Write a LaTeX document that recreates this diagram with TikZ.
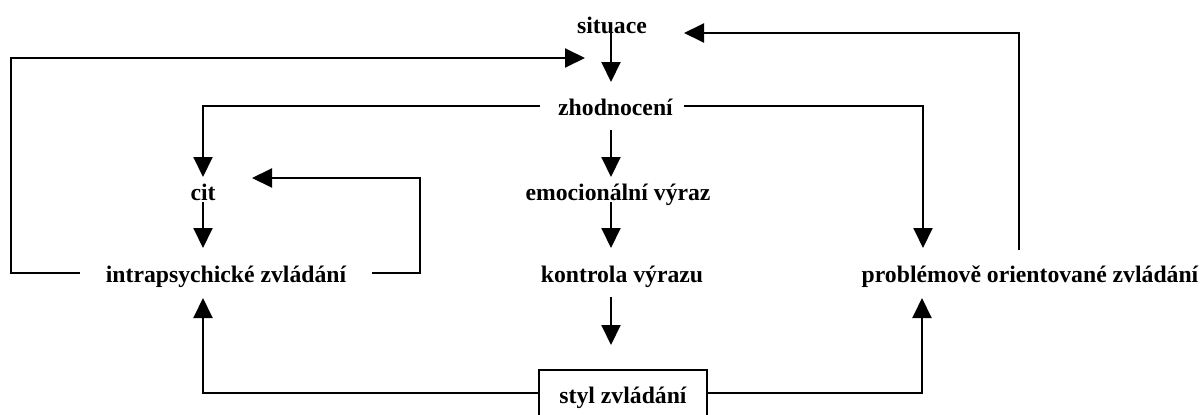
\documentclass[tikz,border=0pt]{standalone}
\usepackage{fontspec}
\setmainfont{Liberation Serif}
\usetikzlibrary{arrows.meta}
\begin{document}
\begin{tikzpicture}[x=1pt,y=-1pt,
    lbl/.style={anchor=base, inner sep=0pt, font=\fontsize{23.7}{28}\selectfont\bfseries},
    arr/.style={line width=2pt, -{Triangle[length=20pt,width=19pt]}},
    ln/.style={line width=2pt}]
  \useasboundingbox (0,0) rectangle (1203,415);
  \clip (0,0) rectangle (1203,415);

  % labels
  \node[lbl] (sit)   at (612,33)   {situace};
  \node[lbl] (zh)    at (615.5,115) {zhodnocení};
  \node[lbl] (cit)   at (203,200)  {cit};
  \node[lbl] (emo)   at (618,200)  {emocionální výraz};
  \node[lbl] (intra) at (226,282)  {intrapsychické zvládání};
  \node[lbl] (kon)   at (622,282)  {kontrola výrazu};
  \node[lbl] (prob)  at (1030,282) {problémově orientované zvládání};
  \node[lbl, draw, line width=2pt, text height=33pt, text depth=30pt,
        minimum width=168pt] (styl) at (623,403) {styl zvládání};

  % end points of the connectors
  \coordinate (sitS)   at (611,31);
  \coordinate (zhN)    at (611,82);
  \coordinate (zhS)    at (611,130);
  \coordinate (emoN)   at (611,177);
  \coordinate (emoS)   at (611,202);
  \coordinate (konN)   at (611,248);
  \coordinate (konS)   at (611,297);
  \coordinate (stylN)  at (611,345);
  \coordinate (zhW)    at (540,106);
  \coordinate (zhE)    at (684,106);
  \coordinate (citN)   at (203,177);
  \coordinate (citS)   at (203,202);
  \coordinate (citE)   at (252,178);
  \coordinate (intraN) at (203,248);
  \coordinate (intraE) at (372,273);
  \coordinate (intraW) at (80,273);
  \coordinate (intraB) at (203,298);
  \coordinate (sitW)   at (585,58);
  \coordinate (sitE)   at (684,33);
  \coordinate (probN)  at (923,248);
  \coordinate (probT)  at (1019,250);
  \coordinate (probB)  at (922,298);
  \coordinate (stylW)  at (539,393);
  \coordinate (stylE)  at (707,393);

  % central chain
  \draw[arr] (sitS) -- (zhN);
  \draw[arr] (zhS) -- (emoN);
  \draw[arr] (emoS) -- (konN);
  \draw[arr] (konS) -- (stylN);

  % appraisal branches
  \draw[arr] (zhW) -| (citN);
  \draw[arr] (zhE) -| (probN);
  \draw[arr] (citS) -- (intraN);

  % feedback loops
  \draw[arr] (intraE) -- (420,273) |- (citE);
  \draw[arr] (intraW) -- (11,273) |- (sitW);
  \draw[arr] (probT) |- (sitE);

  % coping style
  \draw[arr] (stylW) -| (intraB);
  \draw[arr] (stylE) -| (probB);
\end{tikzpicture}
\end{document}
